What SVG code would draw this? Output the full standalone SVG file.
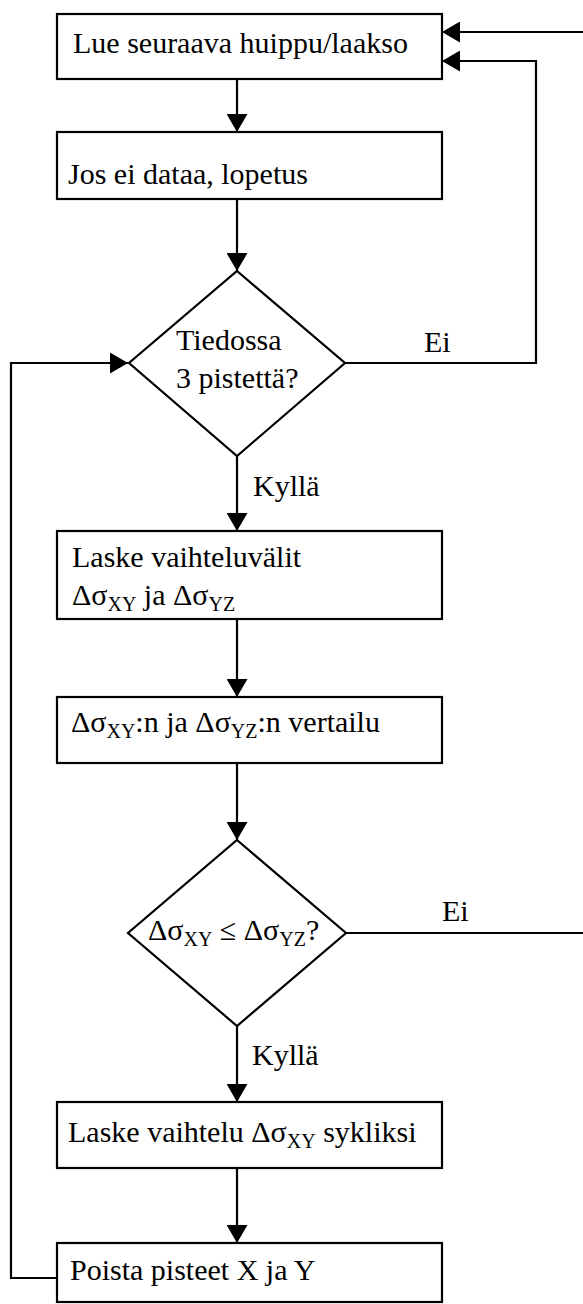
<svg xmlns="http://www.w3.org/2000/svg" width="583" height="1304" viewBox="0 0 583 1304" font-family="'Liberation Serif', 'Times New Roman', Times, serif" font-size="30">
<style>
.box{fill:#fff;stroke:#000;stroke-width:2.2}
.ln{fill:none;stroke:#000;stroke-width:2.2}
.t{font-family:'Liberation Serif', 'Times New Roman', Times, serif;font-size:30px;fill:#000}
.sub{font-size:20px}
</style>
<defs>
<marker id="ah" markerUnits="userSpaceOnUse" markerWidth="18" markerHeight="21" refX="18" refY="10.5" orient="auto" viewBox="0 0 18 21">
<path d="M0,0 L18,10.5 L0,21 z" fill="#000"/>
</marker>
</defs>
<g id="connectors">
<path class="ln" d="M237,79 V132" marker-end="url(#ah)"/>
<path class="ln" d="M237,199 V271" marker-end="url(#ah)"/>
<path class="ln" d="M345,363 H536 V61 H442" marker-end="url(#ah)"/>
<path class="ln" d="M583,32 H442" marker-end="url(#ah)"/>
<path class="ln" d="M237,456 V531" marker-end="url(#ah)"/>
<path class="ln" d="M237,619 V697" marker-end="url(#ah)"/>
<path class="ln" d="M237,763 V840" marker-end="url(#ah)"/>
<path class="ln" d="M346,933 H583"/>
<path class="ln" d="M237,1026 V1102" marker-end="url(#ah)"/>
<path class="ln" d="M237,1168 V1243" marker-end="url(#ah)"/>
<path class="ln" d="M57,1278 H11 V363 H128" marker-end="url(#ah)"/>
<text class="t" x="424" y="352">Ei</text>
<text class="t" x="253" y="496">Kyllä</text>
<text class="t" x="442" y="921">Ei</text>
<text class="t" x="252" y="1065">Kyllä</text>
</g>
<g id="n1">
<rect class="box" x="57" y="14" width="385" height="65"/>
<text class="t" x="73" y="53">Lue seuraava huippu/laakso</text>
</g>
<g id="n2">
<rect class="box" x="57" y="132" width="385" height="67"/>
<text class="t" x="68" y="184">Jos ei dataa, lopetus</text>
</g>
<g id="d1">
<polygon class="box" points="237,271 345,363 237,456 129,363"/>
<text class="t" x="176" y="350">Tiedossa</text>
<text class="t" x="176" y="388">3 pistettä?</text>
</g>
<g id="n3">
<rect class="box" x="57" y="531" width="385" height="88"/>
<text class="t" x="72" y="567">Laske vaihteluvälit</text>
<text class="t" x="72" y="605">Δσ<tspan class="sub" dy="6">XY</tspan><tspan dy="-6"> ja Δσ</tspan><tspan class="sub" dy="6">YZ</tspan></text>
</g>
<g id="n4">
<rect class="box" x="57" y="697" width="385" height="66"/>
<text class="t" x="71" y="732">Δσ<tspan class="sub" dy="6">XY</tspan><tspan dy="-6">:n ja Δσ</tspan><tspan class="sub" dy="6">YZ</tspan><tspan dy="-6">:n vertailu</tspan></text>
</g>
<g id="d2">
<polygon class="box" points="237,840 346,933 237,1026 128,933"/>
<text class="t" x="148" y="940">Δσ<tspan class="sub" dy="6">XY</tspan><tspan dy="-6"> ≤ Δσ</tspan><tspan class="sub" dy="6">YZ</tspan><tspan dy="-6">?</tspan></text>
</g>
<g id="n5">
<rect class="box" x="57" y="1102" width="385" height="66"/>
<text class="t" x="68" y="1142">Laske vaihtelu Δσ<tspan class="sub" dy="6">XY</tspan><tspan dy="-6"> sykliksi</tspan></text>
</g>
<g id="n6">
<rect class="box" x="57" y="1243" width="385" height="59"/>
<text class="t" x="70" y="1280">Poista pisteet X ja Y</text>
</g>
</svg>
